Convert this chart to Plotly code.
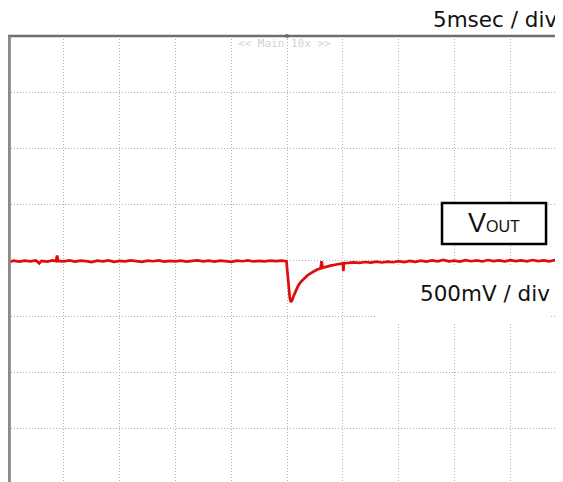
import plotly.graph_objects as go

# Oscilloscope capture: VOUT transient, 5 ms/div, 500 mV/div
time_ms = [
    -25.0, -24.9, -24.5, -24.0, -23.5, -23.0, -22.5, -22.2, -22.0, -21.5,
    -21.0, -20.7, -20.6, -20.5, -20.0, -19.5, -19.0, -18.5, -18.0, -17.5,
    -17.0, -16.5, -16.0, -15.5, -15.0, -14.5, -14.0, -13.5, -13.0, -12.5,
    -12.0, -11.5, -11.0, -10.5, -10.0, -9.5, -9.0, -8.5, -8.0, -7.5,
    -7.0, -6.5, -6.0, -5.5, -5.0, -4.5, -4.0, -3.5, -3.0, -2.5,
    -2.0, -1.5, -1.0, -0.5, -0.05,
    0.05, 0.15, 0.25, 0.35, 0.45, 0.6, 0.8, 1.0, 1.2, 1.5,
    1.8, 2.1, 2.4, 2.7, 3.0, 3.1, 3.2, 3.5, 3.9, 4.3,
    4.7, 5.0, 5.05, 5.1, 5.5, 6.0, 6.5, 7.0, 7.5, 8.0,
    8.5, 9.0, 9.5, 10.0, 10.5, 11.0, 11.5, 12.0, 12.5, 13.0,
    13.5, 14.0, 14.5, 15.0, 15.5, 16.0, 16.5, 17.0, 17.5, 18.0,
    18.5, 19.0, 19.5, 20.0, 20.5, 21.0, 21.5, 22.0, 22.5, 23.0,
    23.5, 24.0, 24.7,
]
vout_v = [
    -0.10, -0.02, -0.005, -0.015, -0.005, -0.012, -0.004, -0.03, -0.008, -0.014,
    -0.004, -0.01, 0.04, -0.008, -0.012, -0.004, -0.015, -0.006, -0.01, -0.018,
    -0.006, -0.012, -0.004, -0.016, -0.008, -0.012, -0.003, -0.01, -0.016, -0.006,
    -0.011, -0.004, -0.014, -0.007, -0.012, -0.005, -0.015, -0.008, -0.003, -0.012,
    -0.006, -0.014, -0.005, -0.01, -0.016, -0.006, -0.011, -0.004, -0.013, -0.007,
    -0.012, -0.005, -0.01, -0.006, -0.01,
    -0.12, -0.26, -0.34, -0.375, -0.36, -0.32, -0.27, -0.23, -0.20, -0.17,
    -0.14, -0.12, -0.10, -0.085, -0.075, -0.01, -0.07, -0.06, -0.05, -0.042,
    -0.035, -0.03, -0.10, -0.028, -0.026, -0.022, -0.026, -0.018, -0.024, -0.015,
    -0.022, -0.014, -0.02, -0.01, -0.018, -0.008, -0.016, -0.006, -0.014, -0.004,
    -0.012, 0.0, -0.012, -0.005, -0.014, -0.002, -0.011, -0.004, -0.013, 0.0,
    -0.01, -0.003, -0.012, -0.002, -0.01, -0.004, -0.012, 0.0, -0.009, -0.003,
    -0.012, -0.002, -0.008,
]

time_label = "5msec / div"
volt_label = "500mV / div"
mode_label = "<< Main 10x >>"

# The page body adds an 8px offset; the plot area spans screen x 8..563, y 36..482
X_RANGE = [-25.0, 24.73]
Y_RANGE = [-1.982, 2.0]
FIG_W, FIG_H = 555, 474

fig = go.Figure()
fig.add_trace(go.Scatter(
    x=time_ms, y=vout_v, mode="lines",
    line=dict(color="#e00c0c", width=2.7),
    hoverinfo="skip", showlegend=False,
))

grid = dict(showgrid=True, gridcolor="#b0b0b0", gridwidth=1, griddash="1px,2px",
            zeroline=False, showticklabels=False, ticks="", showline=False)

fig.update_layout(
    width=FIG_W, height=FIG_H,
    margin=dict(l=0, r=0, t=28, b=0),
    paper_bgcolor="white", plot_bgcolor="white",
    xaxis=dict(range=X_RANGE, dtick=5, tick0=0, **grid),
    yaxis=dict(range=Y_RANGE, dtick=0.5, tick0=0, **grid),
    showlegend=False,
)

shapes = [
    # white patch behind the volts/div label
    dict(type="rect", xref="x", yref="y", x0=7.9, x1=23.6, y0=-0.5625, y1=-0.0625,
         fillcolor="white", line=dict(width=0), layer="between"),
    # VOUT box
    dict(type="rect", xref="x", yref="y", x0=13.89, x1=23.21, y0=0.143, y1=0.509,
         fillcolor="white", line=dict(color="black", width=2.5), layer="between"),
    # top border
    dict(type="line", xref="paper", yref="paper", x0=0, x1=1, y0=1.0, y1=1.0,
         line=dict(color="#6e6e6e", width=2.5), layer="above"),
    # left border
    dict(type="line", xref="paper", yref="paper", x0=0.002, x1=0.002, y0=0, y1=1.0,
         line=dict(color="#8a8a8a", width=3.5), layer="above"),
]
fig.update_layout(shapes=shapes)

fig.add_trace(go.Scatter(x=[0], y=[2.0], mode="markers",
                         marker=dict(color="black", size=3, symbol="square"),
                         hoverinfo="skip", showlegend=False, cliponaxis=False))

fig.add_annotation(xref="paper", yref="paper", x=(559 - 8) / FIG_W, y=1.0,
                   yshift=17, xanchor="right", yanchor="middle",
                   text=time_label, showarrow=False,
                   font=dict(family="DejaVu Sans", size=21.5, color="#111"))
fig.add_annotation(xref="x", yref="y", x=17.75, y=-0.30,
                   xanchor="center", yanchor="middle",
                   text=volt_label, showarrow=False,
                   font=dict(family="DejaVu Sans", size=21.5, color="#111"))
fig.add_annotation(xref="x", yref="y", x=18.55, y=0.33,
                   xanchor="center", yanchor="middle",
                   text="V<span style='font-size:16px'>OUT</span>", showarrow=False,
                   font=dict(family="Liberation Sans", size=27, color="#111"))
fig.add_annotation(xref="x", yref="y", x=-0.2, y=1.93,
                   xanchor="center", yanchor="middle",
                   text=mode_label, showarrow=False,
                   font=dict(family="DejaVu Sans Mono", size=11, color="#d2d2d2"))

fig.write_html("out.html", config={"displayModeBar": False})
